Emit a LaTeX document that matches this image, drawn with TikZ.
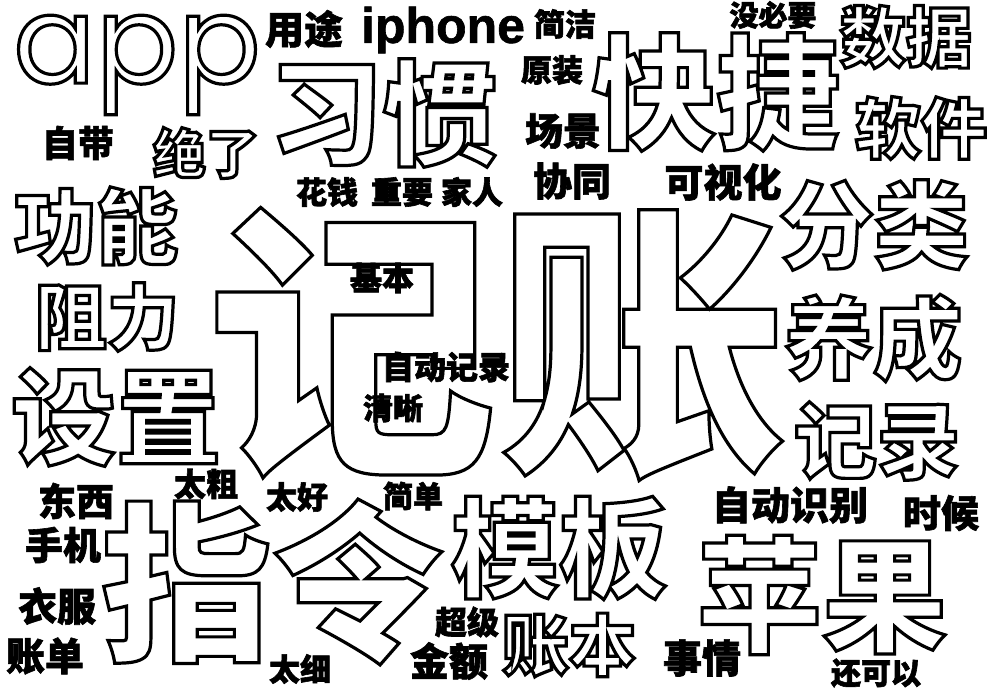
\documentclass[tikz,border=0pt]{standalone}
\usepackage{fontspec}
\setmainfont{Noto Sans CJK SC}
\newfontfamily\latinfont{Liberation Sans}
\newfontfamily\appfont{Poppins}
\newcommand\strokemode{\special{pdf:literal direct 1 Tr 3.2 w}}
\newcommand\fillmode{\special{pdf:literal direct 2 Tr 0.6 w}}

\begin{document}
\begin{tikzpicture}[x=1pt,y=-1pt,
	big/.style={inner sep=0pt,font=\fontsize{#1}{#1}\selectfont\bfseries\strokemode},
	small/.style={inner sep=0pt,font=\fontsize{#1}{#1}\selectfont\bfseries\fillmode}]
	\useasboundingbox (0,0) rectangle (1002,692);
					\node[big=122] (app) at (137,65) {\appfont\mdseries app};
					\node[small=50] (iphone) at (443,30) {\latinfont\bfseries iphone};
					\node[small=39] (yongtu) at (304,29) {用途};
					\node[small=31] (jianjie) at (565,24) {简洁};
					\node[small=29] (meibiyao) at (773,15) {没必要};
					\node[big=66] (shuju) at (906,37) {数据};
					\node[small=31] (yuanzhuang) at (552,70) {原装};
					\node[big=124] (kuaijie) at (716,92) {快捷};
					\node[big=114] (xiguan) at (383,113) {习惯};
					\node[big=66] (ruanjian) at (921,128) {软件};
					\node[small=38] (changjing) at (563,131) {场景};
					\node[small=36] (zidai) at (78,143) {自带};
					\node[big=53] (juele) at (206,153) {绝了};
					\node[small=31] (huaqian) at (327,192) {花钱};
					\node[small=31] (zhongyao) at (402,192) {重要};
					\node[small=31] (jiaren) at (472,192) {家人};
					\node[small=39] (xietong) at (572,181) {协同};
					\node[small=39] (keshihua) at (723,182) {可视化};
					\node[big=82] (gongneng) at (96,226) {功能};
					\node[big=95] (fenlei) at (874,225) {分类};
					\node[big=290] (jizhang) at (497,344) {记账};
					\node[big=72] (zuli) at (107,317) {阻力};
					\node[small=32] (jiben) at (382,278) {基本};
					\node[big=89] (yangcheng) at (873,338) {养成};
					\node[small=32] (zidongjilu) at (446,367) {自动记录};
					\node[small=30] (qingxi) at (393,408) {清晰};
					\node[big=105] (shezhi) at (116,417) {设置};
					\node[big=83] (jilu) at (877,441) {记录};
					\node[small=38] (dongxi) at (76,501) {东西};
					\node[small=32] (taicu) at (206,484) {太粗};
					\node[small=31] (taihao) at (297,497) {太好};
					\node[small=30] (jiandan) at (413,496) {简单};
					\node[small=38] (shouji) at (63,545) {手机};
					\node[big=171] (zhiling) at (272,582) {指令};
					\node[big=108] (muban) at (559,548) {模板};
					\node[small=39] (zidongshibie) at (790,505) {自动识别};
					\node[small=38] (shihou) at (941,513) {时候};
					\node[big=125] (pingguo) at (822,595) {苹果};
					\node[small=39] (yifu) at (57,606) {衣服};
					\node[small=39] (zhangdan) at (45,656) {账单};
					\node[small=32] (chaoji) at (467,622) {超级};
					\node[big=67] (zhangben) at (569,645) {账本};
					\node[small=39] (shiqing) at (702,658) {事情};
					\node[small=31] (taixi) at (300,669) {太细};
					\node[small=39] (jine) at (449,661) {金额};
					\node[small=30] (haikeyi) at (876,673) {还可以};
\end{tikzpicture}
\end{document}
